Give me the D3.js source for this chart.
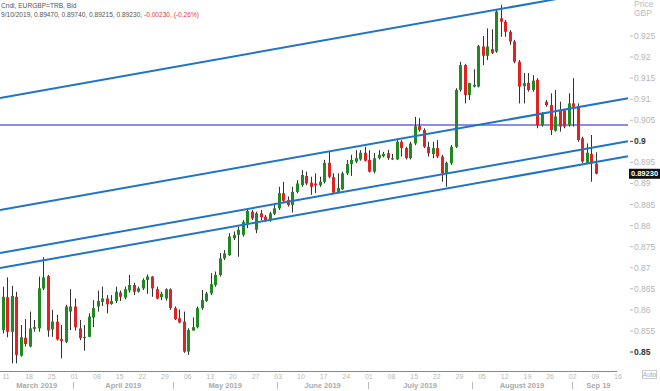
<!doctype html>
<html>
<head>
<meta charset="utf-8">
<title>EURGBP daily candles</title>
<style>
  body { margin: 0; background: #fff; }
  svg { display: block; font-family: "Liberation Sans", Arial, sans-serif; }
</style>
<script src="https://cdn.jsdelivr.net/npm/d3@7"></script>
</head>
<body>
<svg width="660" height="391"></svg>
<script>
// daily bars, weekdays from Mon 11 Mar 2019 to Tue 10 Sep 2019
var OPEN = [0.8552,0.8630,0.8548,0.8631,0.8491,0.8534,0.8513,0.8555,0.8556,0.8651,
  0.8680,0.8554,0.8572,0.8531,0.8524,0.8596,0.8608,0.8556,0.8533,0.8536,
  0.8582,0.8608,0.8619,0.8627,0.8614,0.8621,0.8641,0.8629,0.8646,0.8659,
  0.8643,0.8651,0.8671,0.8679,0.8649,0.8630,0.8627,0.8649,0.8604,0.8580,
  0.8572,0.8501,0.8551,0.8559,0.8604,0.8621,0.8639,0.8659,0.8683,0.8722,
  0.8730,0.8770,0.8778,0.8778,0.8805,0.8833,0.8790,0.8829,0.8821,0.8813,
  0.8828,0.8841,0.8877,0.8861,0.8849,0.8880,0.8896,0.8918,0.8902,0.8900,
  0.8896,0.8904,0.8949,0.8915,0.8878,0.8886,0.8924,0.8946,0.8952,0.8957,
  0.8973,0.8956,0.8928,0.8960,0.8965,0.8972,0.8957,0.8957,0.8999,0.8984,
  0.8960,0.8995,0.9036,0.9027,0.8987,0.8970,0.8984,0.8964,0.8924,0.8948,
  0.8987,0.9122,0.9181,0.9110,0.9130,0.9130,0.9225,0.9203,0.9219,0.9213,
  0.9292,0.9284,0.9260,0.9237,0.9189,0.9131,0.9139,0.9122,0.9146,0.9039,
  0.9094,0.9086,0.9025,0.9074,0.9074,0.9039,0.9090,0.9082,0.9007,0.8949,
  0.8970,0.8947];
var HIGH = [0.8655,0.8677,0.8657,0.8643,0.8564,0.8578,0.8596,0.8576,0.8679,0.8725,
  0.8683,0.8600,0.8588,0.8564,0.8612,0.8649,0.8627,0.8576,0.8564,0.8592,
  0.8623,0.8646,0.8655,0.8635,0.8635,0.8655,0.8646,0.8655,0.8683,0.8664,
  0.8655,0.8675,0.8684,0.8680,0.8655,0.8643,0.8651,0.8651,0.8608,0.8601,
  0.8596,0.8556,0.8582,0.8608,0.8647,0.8643,0.8687,0.8691,0.8735,0.8742,
  0.8782,0.8786,0.8797,0.8813,0.8841,0.8837,0.8833,0.8837,0.8825,0.8833,
  0.8853,0.8892,0.8904,0.8869,0.8892,0.8908,0.8932,0.8928,0.8916,0.8924,
  0.8916,0.8956,0.8975,0.8924,0.8924,0.8928,0.8956,0.8968,0.8979,0.8979,
  0.8987,0.8979,0.8972,0.8979,0.8975,0.8980,0.8970,0.9003,0.9003,0.8987,
  0.8999,0.9058,0.9055,0.9031,0.8999,0.8999,0.9003,0.8968,0.8952,0.8991,
  0.9126,0.9189,0.9184,0.9139,0.9171,0.9229,0.9250,0.9268,0.9266,0.9312,
  0.9324,0.9288,0.9264,0.9241,0.9193,0.9162,0.9162,0.9157,0.9150,0.9070,
  0.9098,0.9114,0.9122,0.9094,0.9076,0.9114,0.9150,0.9090,0.9011,0.8995,
  0.9015,0.8974];
var LOW = [0.8544,0.8535,0.8473,0.8473,0.8489,0.8513,0.8511,0.8548,0.8548,0.8647,
  0.8536,0.8536,0.8527,0.8485,0.8521,0.8552,0.8551,0.8528,0.8503,0.8535,
  0.8559,0.8596,0.8609,0.8592,0.8612,0.8616,0.8621,0.8625,0.8641,0.8635,
  0.8641,0.8647,0.8638,0.8631,0.8625,0.8623,0.8622,0.8600,0.8576,0.8568,
  0.8498,0.8493,0.8551,0.8556,0.8600,0.8619,0.8635,0.8655,0.8679,0.8718,
  0.8728,0.8766,0.8726,0.8774,0.8794,0.8813,0.8782,0.8813,0.8809,0.8809,
  0.8825,0.8837,0.8853,0.8845,0.8831,0.8877,0.8892,0.8896,0.8873,0.8877,
  0.8892,0.8900,0.8912,0.8875,0.8877,0.8885,0.8920,0.8918,0.8948,0.8954,
  0.8952,0.8926,0.8924,0.8957,0.8962,0.8956,0.8956,0.8956,0.8964,0.8957,
  0.8957,0.8991,0.9023,0.8984,0.8964,0.8960,0.8960,0.8904,0.8892,0.8944,
  0.8984,0.9118,0.9090,0.9098,0.9128,0.9128,0.9181,0.9193,0.9207,0.9210,
  0.9248,0.9248,0.9229,0.9185,0.9090,0.9090,0.9118,0.9118,0.9031,0.9035,
  0.9082,0.9015,0.9023,0.9023,0.9031,0.9035,0.9035,0.8999,0.8948,0.8948,
  0.8904,0.89215];
var CLOSE = [0.8631,0.8548,0.8633,0.8493,0.8535,0.8519,0.8556,0.8559,0.8651,0.8677,
  0.8551,0.8572,0.8530,0.8526,0.8608,0.8608,0.8559,0.8533,0.8536,0.8584,
  0.8604,0.8621,0.8627,0.8613,0.8621,0.8643,0.8631,0.8649,0.8659,0.8643,
  0.8651,0.8671,0.8679,0.8651,0.8627,0.8638,0.8649,0.8604,0.8578,0.8570,
  0.8501,0.8552,0.8559,0.8604,0.8623,0.8639,0.8661,0.8683,0.8722,0.8734,
  0.8774,0.8778,0.8790,0.8809,0.8835,0.8817,0.8829,0.8820,0.8813,0.8829,
  0.8841,0.8877,0.8859,0.8849,0.8880,0.8900,0.8920,0.8900,0.8892,0.8896,
  0.8904,0.8949,0.8916,0.8878,0.8889,0.8924,0.8946,0.8956,0.8960,0.8973,
  0.8954,0.8928,0.8960,0.8968,0.8970,0.8960,0.8960,0.8999,0.8984,0.8960,
  0.8995,0.9036,0.9027,0.8987,0.8972,0.8984,0.8964,0.8924,0.8949,0.8987,
  0.9122,0.9181,0.9110,0.9138,0.9134,0.9226,0.9203,0.9225,0.9210,0.9308,
  0.9284,0.9260,0.9237,0.9189,0.9130,0.9138,0.9122,0.9144,0.9039,0.9067,
  0.9086,0.9027,0.9059,0.9035,0.9035,0.9090,0.9082,0.9003,0.8952,0.8973,
  0.8948,0.8923];

var PRICE_TICKS = [0.925,0.92,0.915,0.91,0.905,0.9,0.895,0.89,0.885,0.88,0.875,0.87,0.865,0.86,0.855,0.85];
var BOLD_TICKS = [0.9, 0.85];
// monday labels, one every 5 bars
var WEEK_LABELS = ["11","18","25","01","08","15","22","29","06","13","20","27","03","10",
  "17","24","01","08","15","22","29","05","12","19","26","02","09","16"];
var MONTHS = ["March 2019","April 2019","May 2019","June 2019","July 2019","August 2019","Sep 19"];
var MONTH_FIRST_BAR = [0, 15, 37, 60, 80, 103, 125];

// trend channel: price at first bar and at last bar
var CHANNEL = [[0.91038,0.93545],[0.88380,0.90887],[0.87359,0.89866],[0.87003,0.89510]];
var LEVEL = 0.9039;
var LAST = 0.89230;

var svg = d3.select("svg");
var plotRight = 628, axisY = 371.5;

var x = d3.scaleLinear().domain([0, OPEN.length - 1]).range([2.5, 596]);
var y = d3.scaleLinear().domain([0.85, 0.925]).range([352, 36]);

// header
var head = svg.append("g").attr("fill", "#555").style("font-size", "6.6px");
head.append("text").attr("x", 1).attr("y", 8).text("Cndl, EURGBP=TRB, Bid");
var l2 = head.append("text").attr("x", 1).attr("y", 17);
l2.append("tspan").text("9/10/2019, 0.89470, 0.89740, 0.89215, 0.89230, ");
l2.append("tspan").attr("fill", "#e23c3c").text("-0.00230, (-0.26%)");

// horizontal level
svg.append("line")
  .attr("x1", 0).attr("x2", plotRight)
  .attr("y1", y(LEVEL)).attr("y2", y(LEVEL))
  .attr("stroke", "#8d8de6").attr("stroke-width", 2);

// candles
var bars = d3.range(OPEN.length);
var g = svg.append("g");
g.selectAll("line.wick").data(bars).enter().append("line")
  .attr("class", "wick")
  .attr("x1", function(i) { return Math.round(x(i)) + 0.5; })
  .attr("x2", function(i) { return Math.round(x(i)) + 0.5; })
  .attr("y1", function(i) { return y(HIGH[i]); })
  .attr("y2", function(i) { return y(LOW[i]); })
  .attr("stroke", "#333").attr("stroke-width", 1);
g.selectAll("rect").data(bars).enter().append("rect")
  .attr("x", function(i) { return Math.round(x(i)) - 1; })
  .attr("width", 3)
  .attr("y", function(i) { return y(Math.max(OPEN[i], CLOSE[i])); })
  .attr("height", function(i) { return Math.max(1, Math.abs(y(OPEN[i]) - y(CLOSE[i]))); })
  .attr("fill", function(i) { return CLOSE[i] >= OPEN[i] ? "#1f8a1f" : "#e02222"; });

// channel lines, stretched across the plot
var i0 = x.invert(0), i1 = x.invert(plotRight), n = OPEN.length - 1;
svg.append("g").selectAll("line").data(CHANNEL).enter().append("line")
  .attr("x1", 0).attr("x2", plotRight)
  .attr("y1", function(d) { return y(d[0] + (d[1] - d[0]) * i0 / n); })
  .attr("y2", function(d) { return y(d[0] + (d[1] - d[0]) * i1 / n); })
  .attr("stroke", "#1f74c9").attr("stroke-width", 2);

// price axis
var ax = svg.append("g").style("font-size", "8.5px");
ax.append("text").attr("x", 634).attr("y", 7).attr("fill", "#bbb").text("Price");
ax.append("text").attr("x", 634).attr("y", 16).attr("fill", "#bbb").text("GBP");
var t = ax.selectAll("g.tick").data(PRICE_TICKS).enter().append("g")
  .attr("class", "tick")
  .attr("transform", function(d) { return "translate(0," + y(d) + ")"; });
t.append("line").attr("x1", 630).attr("x2", 633)
  .attr("stroke", function(d) { return BOLD_TICKS.indexOf(d) >= 0 ? "#444" : "#bbb"; });
t.append("text").attr("x", 634).attr("dy", "0.35em")
  .attr("fill", function(d) { return BOLD_TICKS.indexOf(d) >= 0 ? "#333" : "#b5b5b5"; })
  .style("font-weight", function(d) { return BOLD_TICKS.indexOf(d) >= 0 ? "bold" : "normal"; })
  .text(function(d) { return d3.format("")(d); });

// last price tag
svg.append("rect").attr("x", 629).attr("y", y(LAST) - 5).attr("width", 31).attr("height", 10).attr("fill", "#111");
svg.append("text").attr("x", 644.5).attr("y", y(LAST)).attr("dy", "0.35em")
  .attr("text-anchor", "middle").attr("fill", "#fff")
  .style("font-size", "7.5px").style("font-weight", "bold").text("0.89230");

// time axis
svg.append("line").attr("x1", 0).attr("x2", 617).attr("y1", axisY).attr("y2", axisY)
  .attr("stroke", "#888");
svg.append("g").selectAll("text").data(WEEK_LABELS).enter().append("text")
  .attr("x", function(d, k) { return x(k * 5); })
  .attr("y", 379)
  .attr("fill", "#b8b8b8").style("font-size", "7px")
  .text(function(d) { return d; });

var bounds = MONTH_FIRST_BAR.map(function(b) { return x(b) + 3; });
bounds[0] = 0;
bounds.push(625);
svg.append("g").selectAll("text").data(MONTHS).enter().append("text")
  .attr("x", function(d, k) { return (bounds[k] + bounds[k + 1]) / 2; })
  .attr("y", 388).attr("text-anchor", "middle")
  .attr("fill", "#aaa").style("font-size", "7.5px").style("font-weight", "bold")
  .text(function(d) { return d; });
svg.append("g").selectAll("line").data(bounds.slice(1, -1)).enter().append("line")
  .attr("x1", function(d) { return Math.round(d) + 0.5; })
  .attr("x2", function(d) { return Math.round(d) + 0.5; })
  .attr("y1", 382).attr("y2", 389)
  .attr("stroke", "#bbb");

// auto button
svg.append("rect").attr("x", 642.5).attr("y", 370.5).attr("width", 14).attr("height", 8)
  .attr("fill", "none").attr("stroke", "#ccc");
svg.append("text").attr("x", 649.5).attr("y", 377).attr("text-anchor", "middle")
  .attr("fill", "#aaa").style("font-size", "6.5px").text("Auto");
</script>
</body>
</html>
